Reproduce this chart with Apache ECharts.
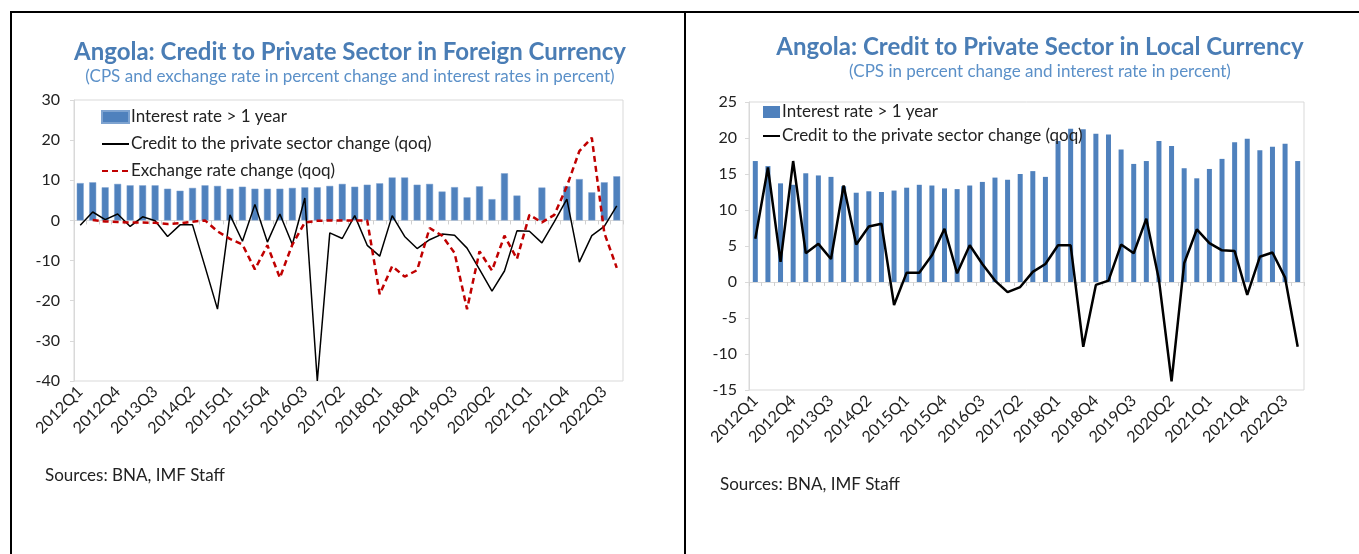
<!DOCTYPE html>
<html>
<head>
<meta charset="utf-8">
<script src="https://cdn.jsdelivr.net/npm/echarts@6/dist/echarts.min.js"></script>
<style>
	body { margin: 0; background: #fff; width: 1359px; height: 554px; position: relative; overflow: hidden; }
	.chart { position: absolute; top: 0; height: 554px; }
	#left { left: 0; width: 684px; }
	#right { left: 686px; width: 673px; }
	.rule { position: absolute; background: #000; }
</style>
</head>
<body>
<div class="rule" style="left:10px;top:11px;width:1349px;height:2px"></div>
<div class="rule" style="left:10px;top:11px;width:2px;height:543px"></div>
<div class="rule" style="left:684px;top:11px;width:2px;height:543px"></div>
<div id="left" class="chart"></div>
<div id="right" class="chart"></div>
<script>
// quarterly categories 2012Q1 .. 2022Q4
const quarters = [];
for (let y = 2012; y <= 2022; y++) {
	for (let q = 1; q <= 4; q++) quarters.push(y + 'Q' + q);
}

// foreign currency panel
const fcInterest = [9.3, 9.5, 8.25, 9.1, 8.75, 8.75, 8.75, 7.9, 7.4, 8.1, 8.75, 8.6, 7.9, 8.4, 7.9, 7.9, 7.9, 8.1, 8.25, 8.25, 8.6, 9.1,
	8.4, 8.9, 9.25, 10.7, 10.7, 8.9, 9.1, 7.2, 8.3, 5.75, 8.5, 5.3, 11.75, 6.2, null, 8.2, null, 8.5, 10.3, 7.0, 9.5, 11.0];
const fcCredit = [-1.2, 2.1, 0.2, 1.6, -1.5, 0.9, -0.1, -4.0, -1.1, -1.1, -11.5, -22.1, 1.4, -5.2, 4.0, -5.4, 1.6, -6.0, 5.6, -40, -3.1, -4.5,
	1.2, -6.2, -8.9, 1.2, -4.0, -7.0, -4.8, -3.4, -3.7, -6.9, -12.2, -17.6, -12.6, -2.6, -2.7, -5.6, -0.3, 5.3, -10.4, -3.8, -1.5, 3.6];
const fcExchange = [null, 0.1, -0.25, -0.4, -0.5, -0.5, -0.6, -0.9, -0.7, -0.3, 0, -2.7, -4.6, -6.0, -12.2, -6.2, -14.3, -6.0, -0.5, -0.1, 0, 0,
	0, 0, -18.4, -11.4, -14.0, -12.4, -1.9, -3.8, -8.1, -22.1, -7.7, -12.5, -3.8, -9.6, 1.4, -0.5, 1.4, 8.5, 17.25, 20.6, -3.1, -11.8];

// local currency panel
const lcInterest = [16.8, 16.1, 13.7, 13.5, 15.1, 14.8, 14.6, 13.3, 12.4, 12.6, 12.5, 12.7, 13.1, 13.5, 13.4, 13.0, 12.9, 13.4, 13.9, 14.5, 14.2, 15.0,
	15.4, 14.6, 19.6, 21.3, 21.2, 20.6, 20.5, 18.4, 16.4, 16.8, 19.6, 18.9, 15.8, 14.4, 15.7, 17.1, 19.4, 19.9, 18.3, 18.8, 19.2, 16.8];
const lcCredit = [6.0, 15.9, 2.8, 16.8, 4.0, 5.3, 3.2, 13.4, 5.2, 7.7, 8.1, -3.2, 1.3, 1.3, 3.7, 7.4, 1.2, 5.1, 2.5, 0.2, -1.4, -0.7,
	1.4, 2.5, 5.1, 5.1, -9.0, -0.4, 0.2, 5.2, 4.0, 8.8, 0.3, -13.8, 2.6, 7.3, 5.4, 4.4, 4.3, -1.8, 3.5, 4.1, 0.6, -9.0];

const FONT = 'Lato, "Open Sans", sans-serif';
const BAR_NAME = 'Interest rate > 1 year';
const CREDIT_NAME = 'Credit to the private sector change (qoq)';
const FX_NAME = 'Exchange rate change (qoq)';

// legend entry for a line series: hide the circle ECharts puts on it
const lineEntry = name => ({ name: name, itemStyle: { opacity: 0 } });

function panel(cfg) {
	return {
		animation: false,
		textStyle: { fontFamily: FONT },
		title: [
			{
				text: cfg.title,
				left: cfg.titleX, top: cfg.titleY, textAlign: 'center',
				textStyle: { fontFamily: FONT, fontSize: 24, fontWeight: 'bold', color: '#4a7db5' }
			},
			{
				text: cfg.subtitle,
				left: cfg.titleX, top: cfg.titleY + 28, textAlign: 'center',
				textStyle: { fontFamily: FONT, fontSize: 17, fontWeight: 'normal', color: '#5b90c8' }
			}
		],
		legend: {
			orient: 'vertical',
			left: cfg.legendX, top: cfg.legendY,
			itemWidth: cfg.legendIconW, itemHeight: 12, itemGap: cfg.legendGap,
			selectedMode: false,
			textStyle: { fontFamily: FONT, fontSize: 17, color: '#222', lineHeight: 18, padding: [0, 0, 0, -3] },
			data: cfg.legend
		},
		grid: {
			left: cfg.grid[0], top: cfg.grid[1], width: cfg.grid[2], height: cfg.grid[3],
			show: true, borderColor: '#d9d9d9', borderWidth: 1
		},
		xAxis: [
			{
				// axis through zero with the small category ticks
				type: 'category', data: quarters,
				axisLine: { onZero: true, lineStyle: { color: '#d9d9d9' } },
				axisTick: { show: true, interval: 0, length: 4, lineStyle: { color: '#d0d0d0' } },
				axisLabel: { show: false }
			},
			{
				// labels along the bottom
				type: 'category', data: quarters, position: 'bottom',
				axisLine: { show: false, onZero: false },
				axisTick: { show: false },
				axisLabel: { interval: 2, rotate: 45, margin: 8, fontFamily: FONT, fontSize: 16, color: '#222' }
			}
		],
		yAxis: {
			type: 'value', min: cfg.yMin, max: cfg.yMax, interval: cfg.yStep,
			splitLine: { show: false },
			axisLine: { show: true, lineStyle: { color: '#d9d9d9' } },
			axisTick: { show: true, length: 4, lineStyle: { color: '#d9d9d9' } },
			axisLabel: { fontFamily: FONT, fontSize: 16, color: '#222', margin: cfg.yMargin }
		},
		graphic: [{
			type: 'text', left: cfg.srcX, top: cfg.srcY,
			style: { text: 'Sources: BNA, IMF Staff', fontFamily: FONT, fontSize: 17, fill: '#222' }
		}],
		series: cfg.series
	};
}

const leftOption = panel({
	title: 'Angola: Credit to Private Sector in Foreign Currency',
	subtitle: '(CPS and exchange rate in percent change and interest rates in percent)',
	titleX: 345, titleY: 35,
	legendX: 96, legendY: 103, legendIconW: 27, legendGap: 9,
	legend: [{ name: BAR_NAME, icon: 'rect' }, lineEntry(CREDIT_NAME), lineEntry(FX_NAME)],
	grid: [74, 100, 549, 281],
	yMin: -40, yMax: 30, yStep: 10, yMargin: 14,
	srcX: 45, srcY: 467,
	series: [
		{
			name: BAR_NAME, type: 'bar', data: fcInterest, barWidth: 7,
			itemStyle: { color: '#4f81bd', borderColor: '#7ea3d0', borderWidth: 0.5 }
		},
		{
			name: CREDIT_NAME, type: 'line', data: fcCredit, symbol: 'none',
			lineStyle: { color: '#000', width: 1.5 }, itemStyle: { color: '#000' }
		},
		{
			name: FX_NAME, type: 'line', data: fcExchange, symbol: 'none',
			lineStyle: { color: '#c00000', width: 2.5, type: [6, 4] }, itemStyle: { color: '#c00000' }
		}
	]
});

const rightOption = panel({
	title: 'Angola: Credit to Private Sector in Local Currency',
	subtitle: '(CPS in percent change and interest rate in percent)',
	titleX: 349, titleY: 30,
	legendX: 71, legendY: 98, legendIconW: 17, legendGap: 6,
	legend: [{ name: BAR_NAME, icon: 'rect' }, lineEntry(CREDIT_NAME)],
	grid: [63, 102, 555, 288],
	yMin: -15, yMax: 25, yStep: 5, yMargin: 12,
	srcX: 34, srcY: 476,
	series: [
		{
			name: BAR_NAME, type: 'bar', data: lcInterest, barWidth: 5,
			itemStyle: { color: '#4f81bd' }
		},
		{
			name: CREDIT_NAME, type: 'line', data: lcCredit, symbol: 'none',
			lineStyle: { color: '#000', width: 2.5 }, itemStyle: { color: '#000' }
		}
	]
});

const leftChart = echarts.init(document.getElementById('left'));
leftChart.setOption(leftOption);
const rightChart = echarts.init(document.getElementById('right'));
rightChart.setOption(rightOption);
</script>
</body>
</html>
